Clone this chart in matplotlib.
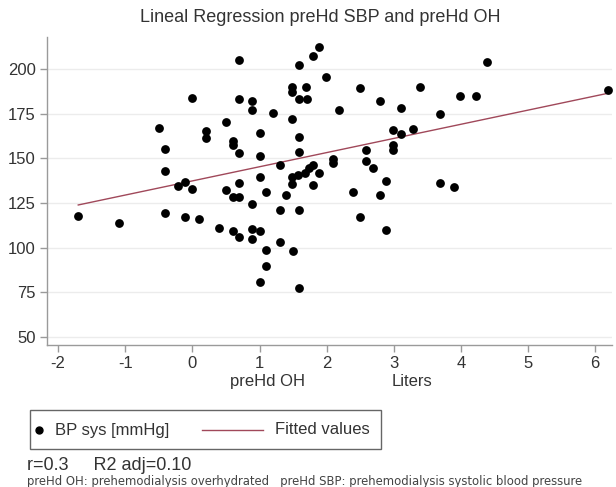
import matplotlib
matplotlib.use("Agg")
import matplotlib.pyplot as plt
from matplotlib.lines import Line2D
from matplotlib.patches import Rectangle

plt.rcParams['font.family'] = ['Liberation Sans', 'DejaVu Sans']
plt.rcParams['axes.unicode_minus'] = False

# preHd OH (Liters)
oh = [-1.70, -1.10, -0.50, -0.41, -0.41, -0.41, -0.21, -0.11, 0.00, -0.11,
      0.00, 0.10, 0.20, 0.20, 0.40, 0.50, 0.50, 0.60, 0.60, 0.70,
      0.60, 0.70, 0.70, 0.60, 0.70, 0.70, 0.70, 0.89, 0.89, 0.89,
      0.89, 0.89, 1.00, 1.00, 1.00, 1.00, 1.00, 1.10, 1.10, 1.10,
      1.20, 1.30, 1.30, 1.30, 1.40, 1.48, 1.48, 1.49, 1.48, 1.48,
      1.50, 1.59, 1.59, 1.59, 1.59, 1.59, 1.59, 1.58, 1.68, 1.69,
      1.71, 1.73, 1.79, 1.79, 1.79, 1.88, 1.89, 1.99, 2.10, 2.10,
      2.19, 2.39, 2.49, 2.49, 2.59, 2.59, 2.69, 2.80, 2.80, 2.89,
      2.89, 2.99, 2.99, 2.99, 3.10, 3.10, 3.28, 3.39, 3.69, 3.69,
      3.89, 3.99, 4.22, 4.39, 6.19]
# BP sys [mmHg]
sbp = [118.0, 114.0, 167.2, 155.3, 143.0, 119.3, 134.7, 137.0, 132.9, 117.1,
       184.0, 115.9, 165.3, 161.2, 111.2, 170.2, 132.5, 159.7, 157.5, 152.9,
       128.2, 128.2, 136.4, 109.4, 106.2, 205.0, 183.2, 182.3, 177.1, 124.3,
       110.3, 104.9, 109.4, 164.0, 151.3, 139.4, 81.0, 131.2, 98.8, 89.8,
       175.6, 146.3, 121.1, 103.4, 129.5, 189.8, 187.3, 172.0, 139.8, 135.7,
       98.4, 202.2, 183.2, 162.1, 153.7, 121.1, 77.4, 140.7, 141.7, 189.8,
       183.2, 144.5, 207.4, 146.3, 135.1, 212.5, 142.0, 195.3, 149.5, 147.3,
       177.1, 131.4, 189.5, 117.1, 154.7, 148.5, 144.5, 182.3, 129.5, 137.4,
       110.0, 165.9, 157.5, 154.7, 163.6, 178.0, 166.4, 190.1, 174.8, 136.2,
       134.0, 185.1, 185.1, 204.1, 188.3]

fit_intercept = 137.4
fit_slope = 7.92

xticks = [-2, -1, 0, 1, 2, 3, 4, 5, 6]
yticks = [50, 75, 100, 125, 150, 175, 200]

title = "Lineal Regression preHd SBP and preHd OH"
legend_labels = ["BP sys [mmHg]", "Fitted values"]
note1 = "r=0.3     R2 adj=0.10"
note2 = "preHd OH: prehemodialysis overhydrated   preHd SBP: prehemodialysis systolic blood pressure"

W, H = 616, 487
fig = plt.figure(figsize=(W / 100, H / 100), dpi=100)
ax = fig.add_axes([0.0758, 0.2916, 0.9177, 0.6324])

line_color = '#a0485a'
text_color = '#333333'
ax.scatter(oh, sbp, s=40, color='black', zorder=3, linewidths=0)
xmin, xmax = min(oh), max(oh)
ax.plot([xmin, xmax], [fit_intercept + fit_slope * xmin, fit_intercept + fit_slope * xmax],
        color=line_color, lw=1.0, zorder=2)

ax.set_xlim(-2.17, 6.25)
ax.set_ylim(45.6, 217.9)
ax.set_xticks(xticks)
ax.set_yticks(yticks)
ax.grid(axis='y', color='#ececec', lw=1.0)
ax.set_axisbelow(True)
for s in ['top', 'right']:
    ax.spines[s].set_visible(False)
for s in ['left', 'bottom']:
    ax.spines[s].set_color('#9a9a9a')
    ax.spines[s].set_linewidth(1.0)
ax.tick_params(axis='both', colors='#9a9a9a', labelcolor=text_color, labelsize=12,
               length=5, width=1.0, pad=3)


def fx(px):
    return px / W


def fy(py):
    return 1 - py / H


fig.text(fx(320), fy(17), title, ha='center', va='center', fontsize=13, color=text_color)

fig.text(fx(267), fy(386), "preHd OH", ha='center', va='baseline', fontsize=12, color=text_color)
fig.text(fx(412), fy(386), "Liters", ha='center', va='baseline', fontsize=12, color=text_color)

# legend box drawn in figure coordinates
fig.patches.append(Rectangle((fx(30), fy(449)), fx(381) - fx(30), fy(410) - fy(449),
                             transform=fig.transFigure, fill=False, edgecolor='#666666', lw=1.0))
ly = fy(430)
fig.add_artist(Line2D([fx(39)], [ly], marker='o', ls='none', color='black', markersize=5,
                      transform=fig.transFigure))
fig.text(fx(55), ly, legend_labels[0], ha='left', va='center', fontsize=12, color=text_color)
fig.add_artist(Line2D([fx(202), fx(263)], [ly, ly], color=line_color, lw=1.0,
                      transform=fig.transFigure))
fig.text(fx(275), ly, legend_labels[1], ha='left', va='center', fontsize=12, color=text_color)

fig.text(fx(27), fy(470), note1, ha='left', va='baseline', fontsize=13, color=text_color)
fig.text(fx(27), fy(485), note2, ha='left', va='baseline', fontsize=8.4, color='#444444',
         family='DejaVu Sans')

fig.savefig("out.png", dpi=100)
